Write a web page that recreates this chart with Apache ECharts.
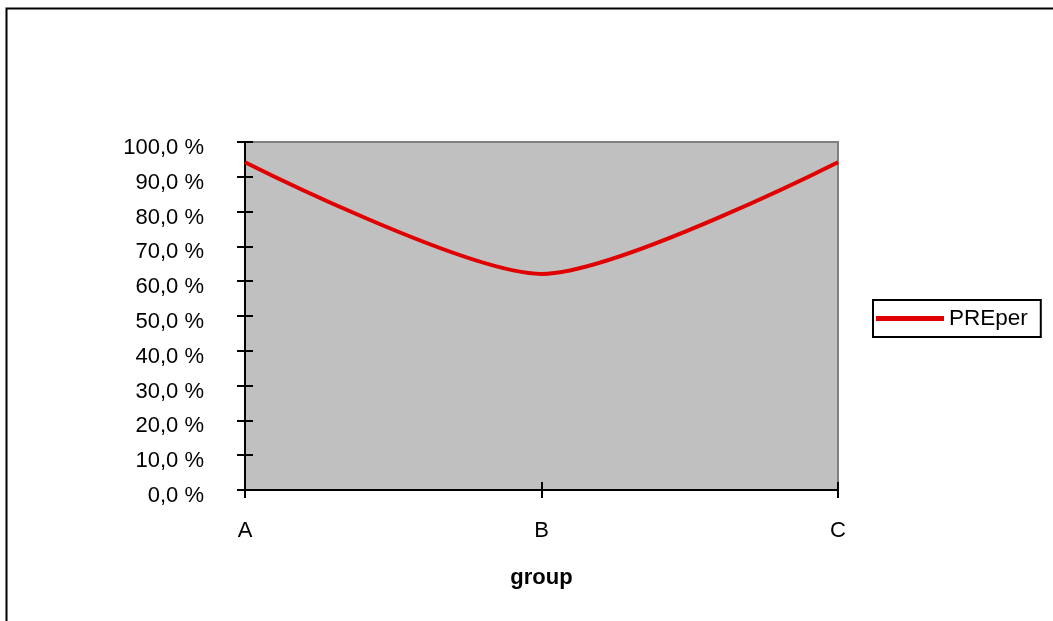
<!DOCTYPE html>
<html><head><meta charset="utf-8">
<script src="https://cdn.jsdelivr.net/npm/echarts@6/dist/echarts.min.js"></script>
<style>html,body{margin:0;padding:0;background:#fff}#c{width:1053px;height:621px}</style>
</head><body><div id="c"></div>
<script>
const categories = ['A', 'B', 'C'];
const seriesName = 'PREper';
const values = [94.2, 62.1, 94.2];
const yTicks = [0, 10, 20, 30, 40, 50, 60, 70, 80, 90, 100];

const FONT = 'Liberation Sans, Arial, Helvetica, sans-serif';
const chart = echarts.init(document.getElementById('c'), null, {renderer: 'canvas'});
const grid = {left: 245, right: 215, top: 142, bottom: 131, show: true, backgroundColor: '#C0C0C0', borderColor: '#808080', borderWidth: 2};
chart.setOption({
  animation: false,
  graphic: [{type: 'rect', shape: {x: 6.5, y: 8.5, width: 1200, height: 800}, style: {fill: 'none', stroke: '#000', lineWidth: 2}, z: 100}],
  grid: grid,
  legend: {
    orient: 'vertical', left: 873, top: 300, data: [seriesName],
    icon: 'rect', itemWidth: 68, itemHeight: 5, itemGap: 0,
    borderColor: '#000', borderWidth: 2, borderRadius: 0, padding: [7, 13, 7, 3],
    textStyle: {fontFamily: FONT, fontSize: 22.5, color: '#000', padding: [0, 0, 0, 0]}
  },
  xAxis: [{
    type: 'category', data: categories, boundaryGap: false, position: 'bottom',
    name: 'group', nameLocation: 'middle', nameGap: 77,
    nameTextStyle: {fontFamily: FONT, fontSize: 22, fontWeight: 'bold', color: '#000'},
    axisLine: {lineStyle: {color: '#000', width: 2}},
    axisTick: {length: 8, lineStyle: {color: '#000', width: 2}},
    axisLabel: {fontFamily: FONT, fontSize: 22, color: '#000', margin: 30},
    splitLine: {show: false}
  }, {
    type: 'category', data: categories, boundaryGap: false, position: 'bottom',
    axisLine: {lineStyle: {color: '#000', width: 2}},
    axisTick: {inside: true, length: 8, lineStyle: {color: '#000', width: 2}},
    axisLabel: {show: false}, splitLine: {show: false}
  }],
  yAxis: [{
    type: 'value', min: 0, max: 100, interval: 10, position: 'left',
    axisLine: {show: true, lineStyle: {color: '#000', width: 2}},
    axisTick: {show: true, length: 8, lineStyle: {color: '#000', width: 2}},
    axisLabel: {fontFamily: FONT, fontSize: 22, color: '#000', margin: 41,
      formatter: v => yTicks.includes(v) ? '{a|' + v.toFixed(1).replace('.', ',') + ' %}' : '',
      rich: {a: {fontFamily: FONT, fontSize: 22, color: '#000', padding: [12, 0, 0, 0]}}},
    splitLine: {show: false}
  }, {
    type: 'value', min: 0, max: 100, interval: 10, position: 'left',
    axisLine: {show: true, lineStyle: {color: '#000', width: 2}},
    axisTick: {show: true, inside: true, length: 8, lineStyle: {color: '#000', width: 2}},
    axisLabel: {show: false}, splitLine: {show: false}
  }],
  series: [{
    name: seriesName, type: 'line', data: values, smooth: 0.25,
    showSymbol: false, symbol: 'none',
    lineStyle: {color: '#E00000', width: 4},
    itemStyle: {color: '#E00000'}
  }]
});
</script></body></html>
